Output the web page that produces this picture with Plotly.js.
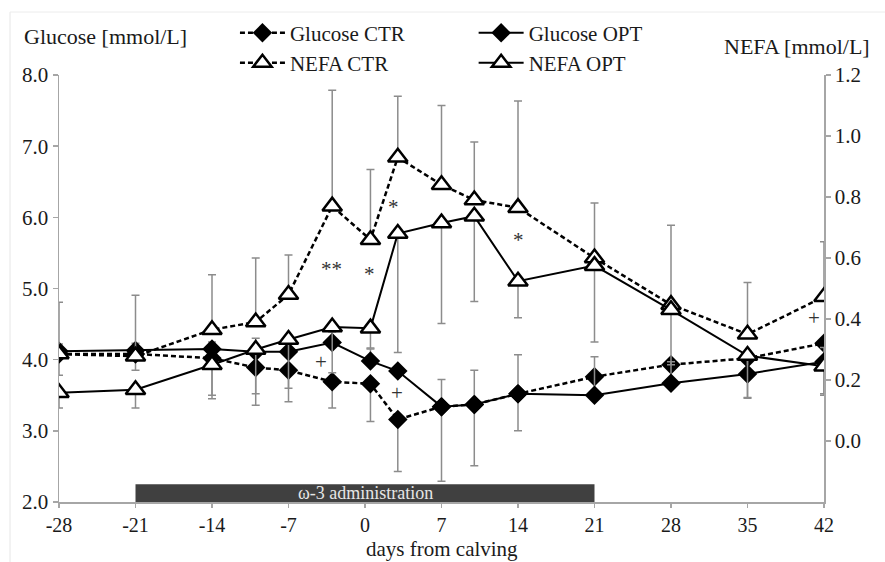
<!DOCTYPE html>
<html><head><meta charset="utf-8">
<script src="https://cdn.plot.ly/plotly-3.0.1.min.js"></script>
<style>html,body{margin:0;padding:0;background:#fff}#chart{width:885px;height:562px}</style>
</head><body><div id="chart"></div>
<script>
// sampling days (days from calving)
const days = [-28, -21, -14, -10, -7, -3, 0.5, 3, 7, 10, 14, 21, 28, 35, 42];
const xTicks = [-28, -21, -14, -7, 0, 7, 14, 21, 28, 35, 42];

// Glucose [mmol/L]
const glucoseCTR = [4.08, 4.08, 4.02, 3.89, 3.85, 3.69, 3.66, 3.16, 3.34, 3.37, 3.52, 3.76, 3.93, 4.02, 4.23];
const glucoseCTRminus = [0.30, 0.23, 0.57, 0.53, 0.44, 0.37, 0.53, 0.73, 1.05, 0.86, 0.52, 0.25, 0.30, 0.55, 0.73];
const glucoseOPT = [4.12, 4.13, 4.15, 4.11, 4.11, 4.24, 3.98, 3.84, 3.34, 3.37, 3.52, 3.50, 3.67, 3.80, 3.97];
const glucoseOPTplus = [0.10, 0.10, 0.10, 0.19, 0.20, 0.15, 0.17, 0.05, 0.38, 0.48, 0.55, 0.54, 0.30, 0.20, 0.20];

// NEFA [mmol/L]
const nefaCTR = [0.285, 0.278, 0.365, 0.39, 0.48, 0.77, 0.66, 0.93, 0.84, 0.79, 0.765, 0.60, 0.447, 0.35, 0.473];
const nefaCTRplus = [0.17, 0.20, 0.18, 0.21, 0.13, 0.38, 0.23, 0.20, 0.26, 0.19, 0.35, 0.18, 0.26, 0.17, 0.18];
const nefaOPT = [0.158, 0.168, 0.25, 0.30, 0.333, 0.374, 0.37, 0.68, 0.715, 0.737, 0.524, 0.575, 0.43, 0.28, 0.245];
const nefaOPTminus = [0.05, 0.06, 0.10, 0.145, 0.16, 0.15, 0.065, 0.39, 0.33, 0.28, 0.12, 0.25, 0.18, 0.14, 0.09];

// significance markers
const sigText = ['**', '*', '*', '*', '+', '+', '+'];
const sigDay = [-3.1, 0.4, 2.65, 14.0, -4.05, 2.96, 41.1];
const sigGlucose = [5.28, 5.21, 6.15, 5.68, 3.97, 3.53, 4.58];

const zeros = days.map(() => 0);
const FONT = 'Liberation Serif, Times New Roman, serif';
const errStyle = {color: '#8c8c8c', thickness: 1.5, width: 4};

const traces = [
  {x: days, y: glucoseCTR, name: 'Glucose CTR', yaxis: 'y', legend: 'legend', mode: 'lines+markers',
   line: {color: '#000', width: 2.5, dash: '5px,3px'},
   marker: {symbol: 'diamond', size: 15, color: '#000'},
   error_y: Object.assign({type: 'data', symmetric: false, array: zeros, arrayminus: glucoseCTRminus}, errStyle)},
  {x: days, y: glucoseOPT, name: 'Glucose OPT', yaxis: 'y', legend: 'legend2', mode: 'lines+markers',
   line: {color: '#000', width: 2},
   marker: {symbol: 'diamond', size: 15, color: '#000'},
   error_y: Object.assign({type: 'data', symmetric: false, array: glucoseOPTplus, arrayminus: zeros}, errStyle)},
  {x: days, y: nefaCTR, name: 'NEFA CTR', yaxis: 'y2', legend: 'legend3', mode: 'lines+markers',
   line: {color: '#000', width: 2.5, dash: '5px,3px'},
   marker: {symbol: 'triangle-up', size: 17, color: '#fff', line: {color: '#000', width: 2.5}},
   error_y: Object.assign({type: 'data', symmetric: false, array: nefaCTRplus, arrayminus: zeros}, errStyle)},
  {x: days, y: nefaOPT, name: 'NEFA OPT', yaxis: 'y2', legend: 'legend4', mode: 'lines+markers',
   line: {color: '#000', width: 2},
   marker: {symbol: 'triangle-up', size: 17, color: '#fff', line: {color: '#000', width: 2.5}},
   error_y: Object.assign({type: 'data', symmetric: false, array: zeros, arrayminus: nefaOPTminus}, errStyle)}
];

function legendAt(x, y) {
  return {x: x, y: y, xanchor: 'left', yanchor: 'middle', bgcolor: 'rgba(0,0,0,0)',
          font: {family: FONT, size: 21, color: '#1a1a1a'}, itemwidth: 45, itemsizing: 'trace',
          itemclick: false, itemdoubleclick: false, visible: true};
}

const annotations = sigText.map((t, i) => ({
  x: sigDay[i], y: sigGlucose[i], xref: 'x', yref: 'y', text: t, showarrow: false,
  font: {family: FONT, size: 21, color: '#333333'}, xanchor: 'center', yanchor: 'middle'
}));
annotations.push(
  {x: 0, y: 2.125, xref: 'x', yref: 'y', text: 'ω-3 administration', showarrow: false,
   font: {family: FONT, size: 18, color: '#e6e6e6'}, xanchor: 'center', yanchor: 'middle'},
  {x: -0.048, y: 1.089, xref: 'paper', yref: 'paper', text: 'Glucose [mmol/L]', showarrow: false,
   font: {family: FONT, size: 22, color: '#1a1a1a'}, xanchor: 'left', yanchor: 'middle'},
  {x: 1.063, y: 1.066, xref: 'paper', yref: 'paper', text: 'NEFA [mmol/L]', showarrow: false,
   font: {family: FONT, size: 22, color: '#1a1a1a'}, xanchor: 'right', yanchor: 'middle'},
  {x: 0.5, y: -0.1405, xref: 'paper', yref: 'paper', text: 'days from calving', showarrow: false,
   font: {family: FONT, size: 21, color: '#1a1a1a'}, xanchor: 'center', yanchor: 'bottom', borderpad: 0}
);

const axisCommon = {showline: true, linecolor: '#a6a6a6', linewidth: 1.5, ticks: 'outside', ticklen: 5,
  tickcolor: '#a6a6a6', tickwidth: 1.5, showgrid: false, zeroline: false,
  tickfont: {family: FONT, size: 21, color: '#1a1a1a'}};

const layout = {
  width: 885, height: 562,
  margin: {l: 59, r: 61, t: 75, b: 60},
  paper_bgcolor: '#fff', plot_bgcolor: '#fff',
  font: {family: FONT, color: '#1a1a1a'},
  showlegend: true,
  xaxis: Object.assign({}, axisCommon, {range: [-28, 42], tickvals: xTicks, ticktext: xTicks.map(String),
    tickfont: {family: FONT, size: 20, color: '#1a1a1a'}, ticklen: 4}),
  yaxis: Object.assign({}, axisCommon, {range: [2, 8], dtick: 1, tickformat: '.1f'}),
  yaxis2: Object.assign({}, axisCommon, {range: [-0.2, 1.2], overlaying: 'y', side: 'right',
    tickvals: [0, 0.2, 0.4, 0.6, 0.8, 1.0, 1.2], tickformat: '.1f'}),
  legend: legendAt(0.23, 1.098),
  legend2: legendAt(0.542, 1.098),
  legend3: legendAt(0.23, 1.028),
  legend4: legendAt(0.542, 1.028),
  shapes: [
    {type: 'rect', xref: 'x', yref: 'y', x0: -21, x1: 21, y0: 2, y1: 2.25,
     fillcolor: '#404040', line: {width: 0}, layer: 'below'},
    {type: 'line', xref: 'paper', yref: 'paper', x0: -0.064, x1: -0.064, y0: 1.1475, y1: -0.1405,
     line: {color: '#e6e6e6', width: 1}},
    {type: 'line', xref: 'paper', yref: 'paper', x0: -0.064, x1: 1.08, y0: 1.1475, y1: 1.1475,
     line: {color: '#ececec', width: 1}}
  ],
  annotations: annotations
};

Plotly.newPlot('chart', traces, layout, {displayModeBar: false, staticPlot: true});
</script>
</body></html>
